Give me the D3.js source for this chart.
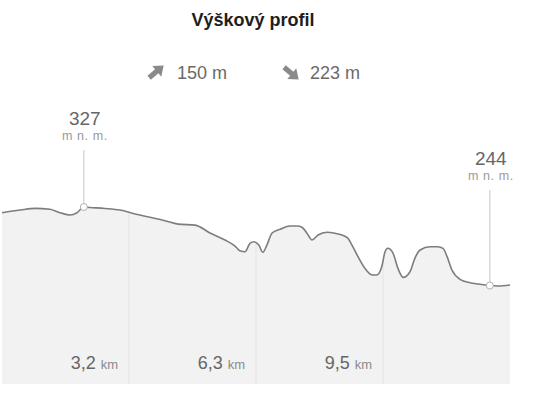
<!DOCTYPE html>
<html>
<head>
<meta charset="utf-8">
<script src="https://cdn.jsdelivr.net/npm/d3@7"></script>
<style>
  html, body { margin: 0; padding: 0; background: #fff; }
  svg { display: block; font-family: "Liberation Sans", Arial, Helvetica, sans-serif; }
</style>
</head>
<body>
<svg id="chart" width="533" height="406"></svg>
<script>
// ---- data ----
const title = "Výškový profil";
const ascent = "150 m";
const descent = "223 m";
const totalKm = 12.6;
const distanceKm = [0, 0.45, 0.82, 1.19, 1.44, 1.69, 1.86, 2.03, 2.18, 2.55, 2.93, 3.30, 3.67, 4.04, 4.37,
  4.79, 5.16, 5.53, 5.78, 5.90, 6.03, 6.15, 6.25, 6.37, 6.47, 6.57, 6.70, 6.90, 7.14, 7.32, 7.44, 7.56,
  7.69, 7.84, 8.06, 8.26, 8.43, 8.58, 8.68, 8.83, 9.00, 9.18, 9.30, 9.43, 9.50, 9.57, 9.70, 9.82, 9.95,
  10.12, 10.24, 10.37, 10.62, 10.81, 10.94, 11.04, 11.16, 11.36, 11.61, 11.81, 12.10, 12.30, 12.60];
const elevationM = [321, 323.8, 325.6, 324.6, 321, 318.6, 321, 327, 326.5, 325.5, 323.8, 319.6, 316.2, 312.6, 309,
  308, 299.7, 292.3, 286, 281, 280, 288.9, 290.5, 287, 279.4, 287, 299.7, 303.6, 307, 307, 305.7, 299.7,
  292.3, 297.6, 300.4, 299.4, 297.6, 294.1, 287, 274.8, 262.6, 255.6, 255.6, 266, 280, 283.6, 278.3, 262.6,
  253.1, 259, 273.1, 281.8, 285.3, 285.3, 283.6, 274.8, 260.8, 251, 247.5, 246.1, 244.5, 244, 245, 245];
const tickKm = [3.15, 6.3, 9.45];
const tickLabels = ["3,2", "6,3", "9,5"];
const tickUnit = "km";
const markerKm = [2.03, 12.10];
const markerLabels = ["327", "244"];
const markerUnit = "m n. m.";

// ---- layout ----
const svg = d3.select("#chart");
const plotLeft = 2, plotRight = 510, plotBottom = 384;
const x = d3.scaleLinear().domain([0, totalKm]).range([plotLeft, plotRight]);
const y = d3.scaleLinear().domain([244, 327]).range([286, 207]);
const pts = distanceKm.map((d, i) => ({ d, e: elevationM[i] }));
const curve = d3.curveMonotoneX;

// title
svg.append("text").attr("x", 253).attr("y", 26).attr("text-anchor", "middle")
  .attr("font-size", 18).attr("font-weight", "bold").attr("fill", "#1e1e1e").text(title);

// ascent / descent
function arrow(cx, cy, angle) {
  svg.append("path")
    .attr("d", "M-9,-2.6 L1,-2.6 L1,-7 L10,0 L1,7 L1,2.6 L-9,2.6 Z")
    .attr("transform", `translate(${cx},${cy}) rotate(${angle})`)
    .attr("fill", "#8a8a8a");
}
arrow(156, 72, -40);
arrow(291, 73, 40);
svg.append("text").attr("x", 177).attr("y", 79).attr("font-size", 18).attr("fill", "#6a6a6a").text(ascent);
svg.append("text").attr("x", 310).attr("y", 79).attr("font-size", 18).attr("fill", "#6a6a6a").text(descent);

// area
const area = d3.area().x(p => x(p.d)).y0(plotBottom).y1(p => y(p.e)).curve(curve);
const line = d3.line().x(p => x(p.d)).y(p => y(p.e)).curve(curve);

const defs = svg.append("defs");
defs.append("clipPath").attr("id", "areaClip").append("path").attr("d", area(pts));

svg.append("path").attr("d", area(pts)).attr("fill", "#f2f2f2");

// vertical grid lines clipped to area
svg.append("g").attr("clip-path", "url(#areaClip)")
  .selectAll("line").data(tickKm).join("line")
  .attr("x1", d => x(d)).attr("x2", d => x(d))
  .attr("y1", 100).attr("y2", plotBottom)
  .attr("stroke", "#e6e6e6").attr("stroke-width", 1.2);

// tick labels
const tg = svg.append("g").selectAll("text").data(tickKm).join("text")
  .attr("x", d => x(d) - 11).attr("y", 369).attr("text-anchor", "end")
  .attr("fill", "#666").attr("font-size", 18);
tg.append("tspan").text((d, i) => tickLabels[i]);
tg.append("tspan").attr("font-size", 13).attr("fill", "#8a8a8a").attr("dx", 5).text(tickUnit);

// profile line
svg.append("path").attr("d", line(pts)).attr("fill", "none")
  .attr("stroke", "#7d7d7d").attr("stroke-width", 1.6).attr("stroke-linejoin", "round");

// markers
const labelTop = [150, 190];
markerKm.forEach((k, i) => {
  const idx = distanceKm.indexOf(k);
  const mx = x(k), my = y(elevationM[idx]);
  svg.append("line").attr("x1", mx).attr("x2", mx).attr("y1", labelTop[i]).attr("y2", my)
    .attr("stroke", "#cfcfcf").attr("stroke-width", 1.2);
  svg.append("circle").attr("cx", mx).attr("cy", my).attr("r", 3.5)
    .attr("fill", "#fff").attr("stroke", "#b0b0b0").attr("stroke-width", 1);
  svg.append("text").attr("x", mx + 1).attr("y", labelTop[i] - 25).attr("text-anchor", "middle")
    .attr("font-size", 19).attr("fill", "#666").text(markerLabels[i]);
  svg.append("text").attr("x", mx + 1).attr("y", labelTop[i] - 10).attr("text-anchor", "middle")
    .attr("font-size", 12.5).attr("letter-spacing", 0.6).attr("fill", "#9a9a9a").text(markerUnit);
});
</script>
</body>
</html>
